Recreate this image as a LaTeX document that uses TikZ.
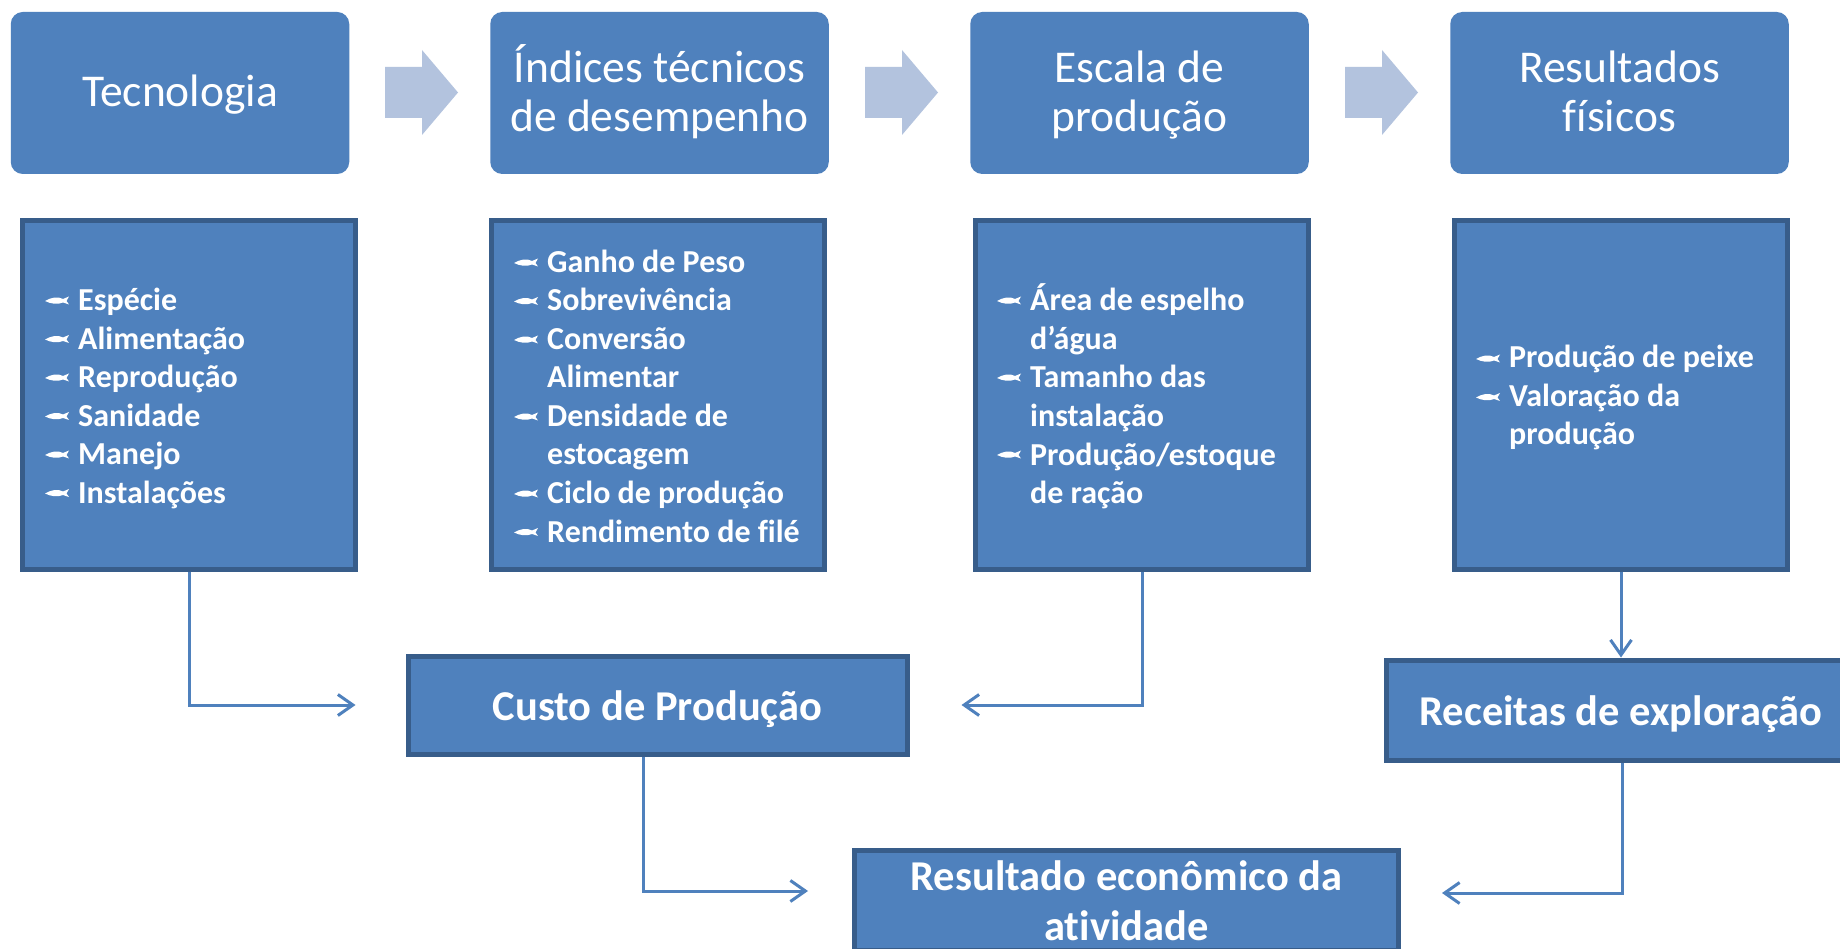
\documentclass[tikz,border=0pt]{standalone}
\usepackage{fontspec}
\setmainfont[Ligatures=NoCommon]{Carlito}
\usetikzlibrary{arrows.meta}
\definecolor{boxblue}{HTML}{4F81BD}
\definecolor{edgeblue}{HTML}{385D8A}
\definecolor{arrowblue}{HTML}{B3C3DE}
\newcommand{\twolines}[2]{\begin{tabular}[t]{@{}l@{}}#1\\#2\end{tabular}}
\newcommand{\topstrut}{\rule[-10.7pt]{0pt}{49pt}}
\newcommand{\resstrut}{\rule[-10pt]{0pt}{50pt}}
\tikzset{
  x=1pt,y=-1pt,
  topbox/.style={fill=boxblue,rounded corners=12pt,minimum width=338.5pt,minimum height=162pt,text=white,align=center,inner sep=0pt,font=\fontsize{45.5}{49}\selectfont},
  listbox/.style={fill=boxblue,draw=edgeblue,line width=5pt,minimum width=333pt,minimum height=348pt,inner sep=0pt},
  item/.style={anchor=base west,text=white,inner sep=0pt,font=\fontsize{32}{38.5}\selectfont\bfseries},
  resbox/.style={fill=boxblue,draw=edgeblue,line width=5pt,text=white,align=center,inner sep=0pt,font=\fontsize{42.5}{50}\selectfont\bfseries},
  flow/.style={draw=boxblue,line width=3pt,-{Straight Barb[length=15pt,width=21pt,line width=3pt]}},
  bigarrow/.style={fill=arrowblue},
  fish/.pic={
    \fill[white] (-12,0) .. controls (-6,-3.5) and (1,-5) .. (6,-2) -- (12,-4.5) -- (9.5,0) -- (12,3.5) -- (6,1.5) .. controls (1,3.8) and (-6,3) .. (-12,0) -- cycle;
  }
}
\begin{document}
\begin{tikzpicture}
\useasboundingbox (0,0) rectangle (1840,949);
\fill[white] (0,0) rectangle (1840,949);
% top row
\node[topbox] (t1) at (180,93) {\topstrut Tecnologia};
\node[topbox] (t2) at (659.5,93) {\topstrut Índices técnicos\\\topstrut de desempenho};
\node[topbox] (t3) at (1139.5,93) {\topstrut Escala de\\\topstrut produção};
\node[topbox] (t4) at (1619.5,93) {\topstrut Resultados\\\topstrut físicos};
% block arrows
\foreach \d in {0,480,960}{
  \fill[bigarrow] (385+\d,67) -- (422+\d,67) -- (422+\d,50) -- (458+\d,92.5) -- (422+\d,135) -- (422+\d,118) -- (385+\d,118) -- cycle;
}
% list boxes
\node[listbox] (b1) at (189,395) {};
\node[listbox] (b2) at (657.5,395) {};
\node[listbox] (b3) at (1142,395) {};
\node[listbox] (b4) at (1621,395) {};
% result boxes
\node[resbox,minimum width=499pt,minimum height=98pt] (custo) at (657.5,705) {\resstrut Custo de Produção};
\node[resbox,minimum width=470pt,minimum height=100pt] (receitas) at (1621,710) {\resstrut Receitas de exploração};
\node[resbox,minimum width=544pt,minimum height=96pt] (result) at (1126.5,900.5) {\resstrut Resultado econômico da\\\resstrut atividade};
% list 1
\node[item] (a1) at (78,311) {Espécie};
\node[item] (a2) at (78,349.5) {Alimentação};
\node[item] (a3) at (78,388) {Reprodução};
\node[item] (a4) at (78,426.5) {Sanidade};
\node[item] (a5) at (78,464.5) {Manejo};
\node[item] (a6) at (78,503.5) {Instalações};
\foreach \y in {301,339.5,378,416.5,455,493.5} \pic at (57,\y) {fish};
% list 2
\node[item] (c1) at (547,272.5) {Ganho de Peso};
\node[item] (c2) at (547,311) {Sobrevivência};
\node[item] (c3) at (547,349.5) {\twolines{Conversão}{Alimentar}};
\node[item] (c4) at (547,426.5) {\twolines{Densidade de}{estocagem}};
\node[item] (c5) at (547,503.5) {Ciclo de produção};
\node[item] (c6) at (547,542) {Rendimento de filé};
\foreach \y in {263,301.5,340,417,494,532.5} \pic at (526,\y) {fish};
% list 3
\node[item] (d1) at (1030,311) {\twolines{Área de espelho}{d’água}};
\node[item] (d2) at (1030,388) {\twolines{Tamanho das}{instalação}};
\node[item] (d3) at (1030,465) {\twolines{Produção/estoque}{de ração}};
\foreach \y in {301,378,455} \pic at (1009,\y) {fish};
% list 4
\node[item] (e1) at (1509,368) {Produção de peixe};
\node[item] (e2) at (1509,406.5) {\twolines{Valoração da}{produção}};
\foreach \y in {359,397.5} \pic at (1488,\y) {fish};
% connectors
\coordinate (ce) at (808,891);
\coordinate (re) at (1442,893);
\coordinate (cs) at (643,755);
\coordinate (rs) at (1622,758);
\draw[flow,shorten >=50pt] (b1.south) |- (custo.west);
\draw[flow,shorten >=52pt] (b3.south) |- (custo.east);
\draw[flow] (b4.south) -- (receitas.north);
\draw[flow] (cs |- custo.south) |- (ce);
\draw[flow] (rs |- receitas.south) |- (re);
\end{tikzpicture}
\end{document}
